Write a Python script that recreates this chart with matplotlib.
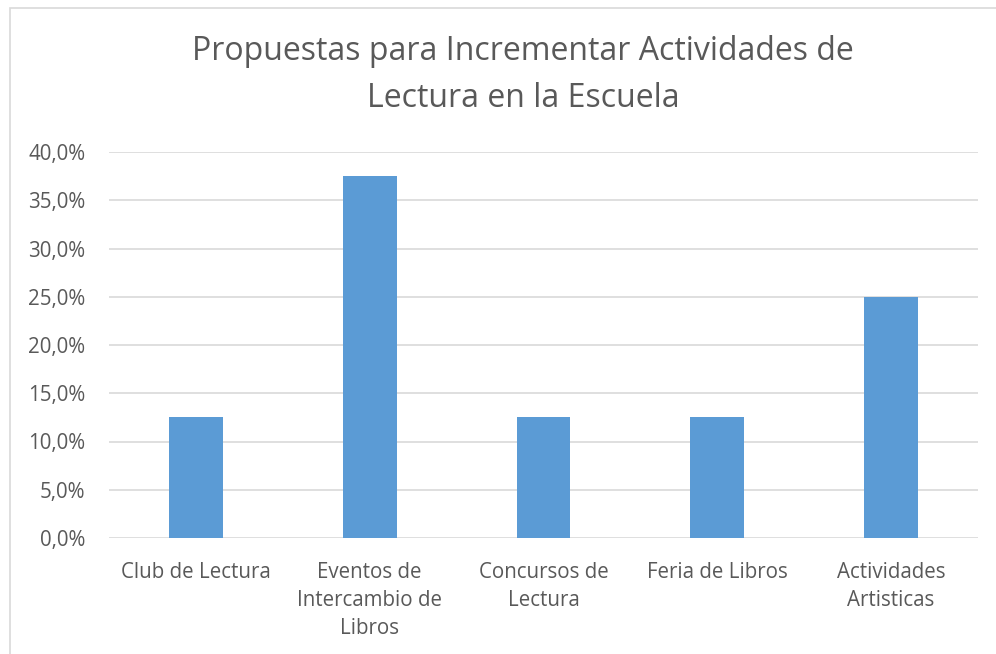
import matplotlib.pyplot as plt
from matplotlib.patches import Rectangle
from matplotlib.ticker import FuncFormatter

categorias = ["Club de Lectura", "Eventos de\nIntercambio de\nLibros", "Concursos de\nLectura",
              "Feria de Libros", "Actividades\nArtisticas"]
valores = [12.5, 37.5, 12.5, 12.5, 25.0]

plt.rcParams['font.family'] = ['Open Sans', 'DejaVu Sans']
gris = '#595959'

fig = plt.figure(figsize=(9.96, 6.54), dpi=100)
ax = fig.add_axes([109/996, 1 - 538/654, (978 - 109)/996, (538 - 152)/654])

ax.bar(range(len(valores)), valores, width=0.31, color='#5b9bd5', zorder=3)
ax.set_xlim(-0.5, len(valores) - 0.5)
ax.set_ylim(0, 40)
ax.set_yticks(range(0, 41, 5))
ax.yaxis.set_major_formatter(FuncFormatter(lambda v, p: f"{v:.1f}%".replace('.', ',')))
ax.set_xticks(range(len(valores)))
ax.set_xticklabels(categorias, linespacing=1.45)
ax.grid(axis='y', color='#d9d9d9', linewidth=1.2, zorder=0)
for s in ax.spines.values():
    s.set_visible(False)
ax.tick_params(length=0, labelsize=14.8, labelcolor=gris)
ax.tick_params(axis='x', pad=17)
ax.tick_params(axis='y', pad=17)

fig.text(523/996, 1 - 75/654, "Propuestas para Incrementar Actividades de\nLectura en la Escuela",
         ha='center', va='center', fontsize=23, color=gris, linespacing=1.55)

fig.patches.append(Rectangle((10/996, -0.1), 1.2, 1 - 8/654 + 0.1, transform=fig.transFigure,
                             fill=False, edgecolor='#d9d9d9', linewidth=1.2))

fig.savefig('out.png', dpi=100)
